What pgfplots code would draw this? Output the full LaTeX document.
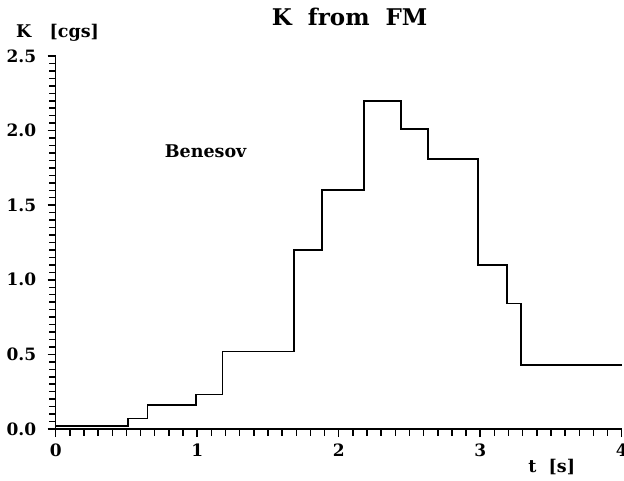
\documentclass[border=0pt]{standalone}
\usepackage{fontspec}
\setmainfont{DejaVu Serif}
\usepackage{pgfplots}
\pgfplotsset{compat=1.18}
\begin{document}
\begin{tikzpicture}[font=\bfseries]
\begin{axis}[
  scale only axis,
  width=566pt, height=373pt,
  xmin=0, xmax=4, ymin=0, ymax=2.5,
  axis x line=bottom, axis y line=left,
  axis line style={-, line width=1.6pt},
  xtick pos=bottom, ytick pos=left,
  tick align=outside,
  xtick={0,1,2,3,4}, ytick={0,0.5,1,1.5,2,2.5},
  minor x tick num=9, minor y tick num=9,
  major tick length=8pt, minor tick length=6.5pt,
  tick style={black, line width=1.5pt},
  minor tick style={black, line width=1.5pt},
  xticklabel style={font=\fontsize{17}{17}\selectfont\bfseries, yshift=-3pt},
  yticklabel style={font=\fontsize{17}{17}\selectfont\bfseries, xshift=-8pt},
  xticklabel={\pgfmathprintnumber[fixed,precision=0]{\tick}},
  yticklabel={\pgfmathprintnumber[fixed,fixed zerofill,precision=1]{\tick}},
  /pgf/number format/assume math mode=true,
  clip=false,
]
\addplot[const plot, line width=1.6pt, black] coordinates {
  (0,0.02) (0.51,0.07) (0.65,0.16) (0.99,0.23) (1.18,0.52) (1.685,1.20)
  (1.88,1.60) (2.18,2.20) (2.44,2.01) (2.63,1.81) (2.985,1.10)
  (3.19,0.84) (3.29,0.43) (4.0,0.43)
};
\node[font=\fontsize{17.5}{17.5}\selectfont\bfseries] at (axis cs:1.06,1.86) {Benesov};
\end{axis}
\node[font=\fontsize{23}{23}\selectfont\bfseries] at (294pt,412pt) {K\ \ from\ \ FM};
\node[font=\fontsize{17.5}{17.5}\selectfont\bfseries, anchor=west] at (-43pt,396pt) {K\ \ \ [cgs]};
\node[font=\fontsize{17.5}{17.5}\selectfont\bfseries] at (496pt,-38pt) {t\ \ [s]};
\pgfresetboundingbox
\path[use as bounding box] (-55.7pt,-51pt) rectangle (568.3pt,429pt);
\end{tikzpicture}
\end{document}
